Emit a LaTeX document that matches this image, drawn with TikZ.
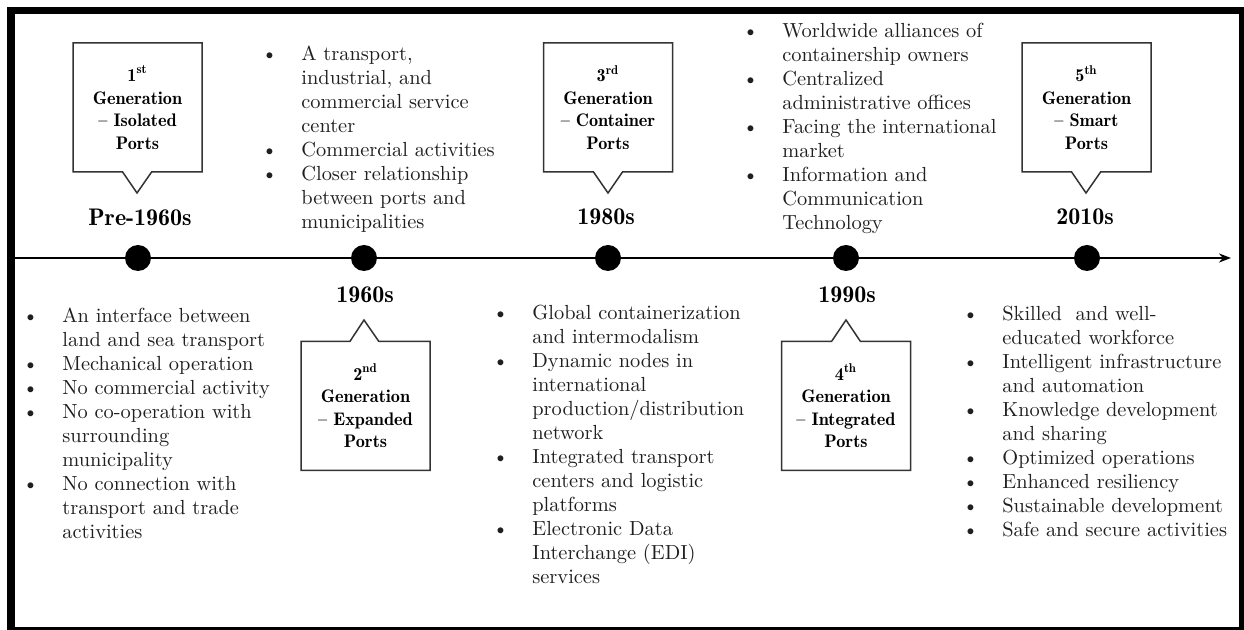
\documentclass[tikz,border=0pt]{standalone}
\usetikzlibrary{shapes.callouts,arrows.meta}
\newcommand\pbul{\llap{\textbullet\hspace{12pt}}}
\begin{document}
\begin{tikzpicture}[x=0.5pt,y=-0.5pt,
  gen/.style={rectangle callout, draw=black!80, line width=0.75pt, fill=white,
    minimum width=64.5pt, minimum height=64.5pt, inner sep=0pt, align=center,
    font=\fontsize{9.1}{11.25}\fontseries{b}\selectfont, callout pointer width=14.5pt},
  yr/.style={font=\fontsize{12}{13}\fontseries{b}\selectfont, inner sep=0pt},
  dot/.style={circle, fill=black, minimum size=13pt, inner sep=0pt},
  lst/.style={anchor=base west, inner sep=0pt, font=\fontsize{10.2}{12}\selectfont, text=black!88}]
\useasboundingbox (0,0) rectangle (1244,630);
\fill[white] (0,0) rectangle (1244,630);
% frame
\fill (7,7) rectangle (1244,14);
\fill (7,7) rectangle (15,630);
\fill (1239,7) rectangle (1244,630);
\fill (7,627) rectangle (1244,630);
% timeline
\coordinate (ts) at (15,258);
\coordinate (te) at (1231,258);
\draw[line width=1pt, -{Stealth[length=6pt,width=4.5pt]}] (ts) -- (te);
\node[dot] (d1) at (138,258) {};
\node[dot] (d2) at (364,258) {};
\node[dot] (d3) at (608,258) {};
\node[dot] (d4) at (846,258) {};
\node[dot] (d5) at (1087,258) {};
% years
\node[yr] (y1) at (140,217) {Pre-1960s};
\node[yr] (y2) at (365,295) {1960s};
\node[yr] (y3) at (606,217) {1980s};
\node[yr] (y4) at (847,295) {1990s};
\node[yr] (y5) at (1085,217) {2010s};
% generation callouts
\node[gen, callout absolute pointer={(137,193)}] (g1) at (137.5,107.5)
  {1\textsuperscript{st}\\Generation\\-- Isolated\\Ports};
\node[gen, callout absolute pointer={(364,320)}] (g2) at (365.5,406)
  {2\textsuperscript{nd}\\Generation\\-- Expanded\\Ports};
\node[gen, callout absolute pointer={(608,193)}] (g3) at (608,107.5)
  {3\textsuperscript{rd}\\Generation\\-- Container\\Ports};
\node[gen, callout absolute pointer={(846,320)}] (g4) at (846,406)
  {4\textsuperscript{th}\\Generation\\-- Integrated\\Ports};
\node[gen, callout absolute pointer={(1086,193)}] (g5) at (1086.5,107.5)
  {5\textsuperscript{th}\\Generation\\-- Smart\\Ports};
% lists
\node[lst] (l1) at (62,323) {\begin{tabular}[t]{@{}l@{}}
\pbul An interface between\\ land and sea transport\\
\pbul Mechanical operation\\
\pbul No commercial activity\\
\pbul No co-operation with\\ surrounding\\ municipality\\
\pbul No connection with\\ transport and trade\\ activities
\end{tabular}};
\node[lst] (l2) at (301,61) {\begin{tabular}[t]{@{}l@{}}
\pbul A transport,\\ industrial, and\\ commercial service\\ center\\
\pbul Commercial activities\\
\pbul Closer relationship\\ between ports and\\ municipalities
\end{tabular}};
\node[lst] (l3) at (532,320) {\begin{tabular}[t]{@{}l@{}}
\pbul Global containerization\\ and intermodalism\\
\pbul Dynamic nodes in\\ international\\ production/distribution\\ network\\
\pbul Integrated transport\\ centers and logistic\\ platforms\\
\pbul Electronic Data\\ Interchange (EDI)\\ services
\end{tabular}};
\node[lst] (l4) at (782,38) {\begin{tabular}[t]{@{}l@{}}
\pbul Worldwide alliances of\\ containership owners\\
\pbul Centralized\\ administrative offices\\
\pbul Facing the international\\ market\\
\pbul Information and\\ Communication\\ Technology
\end{tabular}};
\node[lst] (l5) at (1002,321) {\begin{tabular}[t]{@{}l@{}}
\pbul Skilled\ \ and well-\\ educated workforce\\
\pbul Intelligent infrastructure\\ and automation\\
\pbul Knowledge development\\ and sharing\\
\pbul Optimized operations\\
\pbul Enhanced resiliency\\
\pbul Sustainable development\\
\pbul Safe and secure activities
\end{tabular}};
\end{tikzpicture}
\end{document}
